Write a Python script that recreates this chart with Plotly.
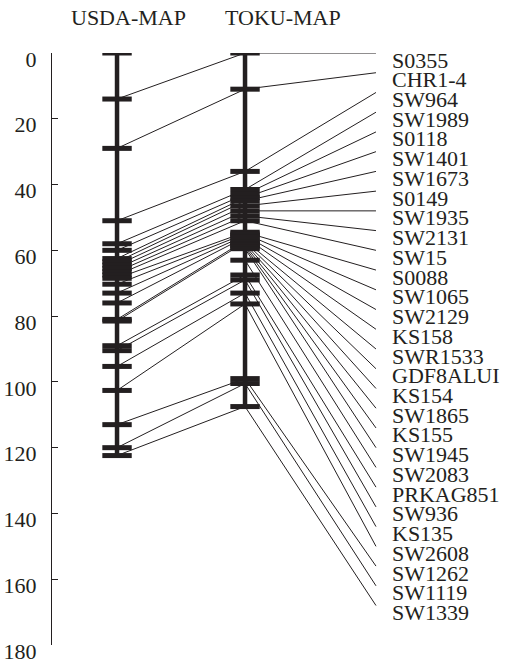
import plotly.graph_objects as go

# ---- data (cM positions) ----
labels = ["S0355", "CHR1-4", "SW964", "SW1989", "S0118", "SW1401", "SW1673", "S0149",
          "SW1935", "SW2131", "SW15", "S0088", "SW1065", "SW2129", "KS158", "SWR1533",
          "GDF8ALUI", "KS154", "SW1865", "KS155", "SW1945", "SW2083", "PRKAG851",
          "SW936", "KS135", "SW2608", "SW1262", "SW1119", "SW1339"]
usda_pos = [14, 29, 51, 58, 60, 62.5, 63.5, 64.5, 65.5, 66.5, 67.5, 68.5, 70.3, 73, 76,
            81, 81.5, None, None, None, None, None, 89, 90.5, 95.3, 102.6, 113, 120, 122.4]
toku_pos = [0, 11, 36, 41.5, 43, 44, 45, 46.5, 48, 49.5, 51, 54.5, 55, 55.5, 56, 57,
            57.5, 58, 58.5, 59, 59.5, 63, 67.5, 69, 73, 76.3, 99, 100.5, 107.5]
usda_extra = [0]
map_names = ["USDA-MAP", "TOKU-MAP"]
y_ticks = [0, 20, 40, 60, 80, 100, 120, 140, 160, 180]

# ---- layout constants ----
INK = "#231f20"
FONT = "Liberation Serif"
X_USDA, X_TOKU, X_LAB = 0.0, 1.0, 2.023
X_TEXT = 2.133
label_step = 168 / (len(labels) - 1)
label_y = [i * label_step for i in range(len(labels))]

fig = go.Figure()

# connection lines
cx, cy = [], []
for u, t, ly in zip(usda_pos, toku_pos, label_y):
    if u is not None:
        cx += [X_USDA, X_TOKU]
        cy += [u, t]
    else:
        cx += [X_TOKU]
        cy += [t]
    cx += [X_LAB, None]
    cy += [ly, None]
fig.add_trace(go.Scatter(x=cx, y=cy, mode="lines", line=dict(color=INK, width=1),
                         hoverinfo="skip", showlegend=False))

usda_all = [u for u in usda_pos if u is not None] + usda_extra
toku_all = list(toku_pos)

# chromosome bars
for xc, vals in [(X_USDA, usda_all), (X_TOKU, toku_all)]:
    fig.add_trace(go.Scatter(x=[xc, xc], y=[min(vals), max(vals)], mode="lines",
                             line=dict(color=INK, width=4.5), hoverinfo="skip",
                             showlegend=False))
    fig.add_trace(go.Scatter(x=[xc] * len(vals), y=vals, mode="markers",
                             marker=dict(symbol="line-ew", size=21,
                                         line=dict(color=INK, width=5)),
                             hoverinfo="skip", showlegend=False))

annotations = []
for name, ly in zip(labels, label_y):
    annotations.append(dict(x=X_TEXT, y=ly, xref="x", yref="y", text=name,
                            showarrow=False, xanchor="left", yanchor="middle",
                            yshift=-7, font=dict(family=FONT, size=22, color=INK)))
for name, xc in zip(map_names, [0.09, 1.297]):
    annotations.append(dict(x=xc, y=1.06, xref="x", yref="paper", text=name,
                            showarrow=False, xanchor="center", yanchor="middle",
                            font=dict(family=FONT, size=22, color=INK)))

fig.update_layout(
    width=505, height=666,
    margin=dict(l=52, r=0, t=53, b=21),
    paper_bgcolor="white", plot_bgcolor="white",
    annotations=annotations,
    xaxis=dict(range=[-0.508, 3.031], visible=False, fixedrange=True),
    yaxis=dict(range=[180, 0], tickvals=y_ticks, showgrid=False, zeroline=False,
               showline=True, linecolor=INK, linewidth=1, ticks="inside",
               ticklen=6, tickwidth=1, tickcolor=INK, ticklabelstandoff=10,
               ticklabelshift=-6,
               tickfont=dict(family=FONT, size=22, color=INK)),
)

fig.write_html("out.html")
